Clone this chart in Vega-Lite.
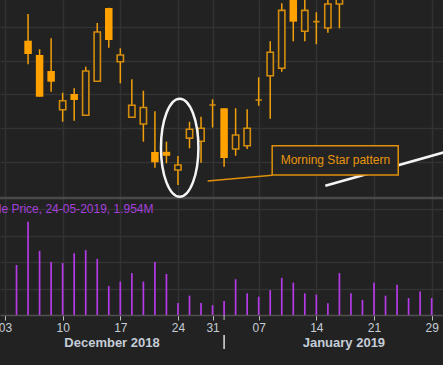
{
  "$schema": "https://vega.github.io/schema/vega-lite/v6.json",
  "width": 443,
  "height": 315,
  "autosize": {"type": "none"},
  "padding": {"left": 0, "top": 0, "right": 0, "bottom": 50},
  "background": "#222222",
  "config": {
    "view": {"stroke": null},
    "font": "Liberation Sans",
    "axisX": {"grid": true, "gridColor": "#333333", "gridWidth": 1.5, "domainColor": "#505050", "domainWidth": 1.5, "tickColor": "#c0c0c0", "tickSize": 5, "tickWidth": 1, "labelColor": "#c5cdd8", "labelFont": "Liberation Sans", "labelFontSize": 12, "labelPadding": 2, "labelFlush": false, "labelOverlap": false}
  },
  "datasets": {
    "days": [
      {"date": "2018-12-04", "i": 1, "open": null, "high": null, "low": null, "close": null, "volume": 1.89},
      {"date": "2018-12-05", "i": 2, "open": 21.797, "high": 22.193, "low": 21.447, "close": 21.600, "volume": 3.52},
      {"date": "2018-12-06", "i": 3, "open": 21.585, "high": 21.670, "low": 20.967, "close": 20.967, "volume": 2.42},
      {"date": "2018-12-07", "i": 4, "open": 21.348, "high": 21.833, "low": 21.041, "close": 21.190, "volume": 2.00},
      {"date": "2018-12-10", "i": 5, "open": 20.775, "high": 21.027, "low": 20.597, "close": 20.908, "volume": 1.96},
      {"date": "2018-12-11", "i": 6, "open": 21.007, "high": 21.092, "low": 20.612, "close": 20.919, "volume": 2.33},
      {"date": "2018-12-12", "i": 7, "open": 20.692, "high": 21.412, "low": 20.692, "close": 21.348, "volume": 2.45},
      {"date": "2018-12-13", "i": 8, "open": 21.196, "high": 22.059, "low": 21.196, "close": 21.926, "volume": 2.12},
      {"date": "2018-12-14", "i": 9, "open": 22.281, "high": 22.285, "low": 21.693, "close": 21.807, "volume": 1.09},
      {"date": "2018-12-17", "i": 10, "open": 21.486, "high": 21.684, "low": 21.166, "close": 21.585, "volume": 1.26},
      {"date": "2018-12-18", "i": 11, "open": 20.662, "high": 21.225, "low": 20.662, "close": 20.840, "volume": 1.58},
      {"date": "2018-12-19", "i": 12, "open": 20.563, "high": 21.056, "low": 20.301, "close": 20.807, "volume": 1.26},
      {"date": "2018-12-20", "i": 13, "open": 20.148, "high": 20.751, "low": 19.916, "close": 19.996, "volume": 2.00},
      {"date": "2018-12-21", "i": 14, "open": 20.151, "high": 20.301, "low": 19.981, "close": 20.092, "volume": 1.55},
      {"date": "2018-12-24", "i": 15, "open": 19.881, "high": 20.089, "low": 19.659, "close": 19.956, "volume": 0.45},
      {"date": "2018-12-27", "i": 16, "open": 20.353, "high": 20.596, "low": 20.203, "close": 20.486, "volume": 0.73},
      {"date": "2018-12-28", "i": 17, "open": 20.308, "high": 20.671, "low": 19.990, "close": 20.501, "volume": 0.45},
      {"date": "2018-12-31", "i": 18, "open": 20.844, "high": 20.929, "low": 20.511, "close": 20.844, "volume": 0.37},
      {"date": "2019-01-02", "i": 19, "open": 20.796, "high": 20.796, "low": 19.930, "close": 20.059, "volume": 0.53},
      {"date": "2019-01-03", "i": 20, "open": 20.193, "high": 20.796, "low": 20.093, "close": 20.400, "volume": 1.35},
      {"date": "2019-01-04", "i": 21, "open": 20.241, "high": 20.781, "low": 20.193, "close": 20.499, "volume": 0.82},
      {"date": "2019-01-07", "i": 22, "open": 20.919, "high": 21.255, "low": 20.833, "close": 20.919, "volume": 0.69},
      {"date": "2019-01-08", "i": 23, "open": 21.277, "high": 21.788, "low": 20.641, "close": 21.625, "volume": 0.94},
      {"date": "2019-01-09", "i": 24, "open": 21.388, "high": 22.351, "low": 21.338, "close": 22.247, "volume": 1.40},
      {"date": "2019-01-10", "i": 25, "open": 22.444, "high": 22.460, "low": 21.788, "close": 22.079, "volume": 1.22},
      {"date": "2019-01-11", "i": 26, "open": 21.936, "high": 22.474, "low": 21.788, "close": 22.247, "volume": 0.82},
      {"date": "2019-01-14", "i": 27, "open": 22.079, "high": 22.218, "low": 21.744, "close": 22.079, "volume": 0.77},
      {"date": "2019-01-15", "i": 28, "open": 21.985, "high": 22.430, "low": 21.916, "close": 22.341, "volume": 0.44},
      {"date": "2019-01-16", "i": 29, "open": 22.341, "high": 22.600, "low": 21.981, "close": 22.548, "volume": 1.58},
      {"date": "2019-01-17", "i": 30, "open": null, "high": null, "low": null, "close": null, "volume": 0.82},
      {"date": "2019-01-18", "i": 31, "open": null, "high": null, "low": null, "close": null, "volume": 0.57},
      {"date": "2019-01-21", "i": 32, "open": null, "high": null, "low": null, "close": null, "volume": 1.22},
      {"date": "2019-01-22", "i": 33, "open": null, "high": null, "low": null, "close": null, "volume": 0.73},
      {"date": "2019-01-23", "i": 34, "open": null, "high": null, "low": null, "close": null, "volume": 1.14},
      {"date": "2019-01-24", "i": 35, "open": null, "high": null, "low": null, "close": null, "volume": 0.64},
      {"date": "2019-01-25", "i": 36, "open": null, "high": null, "low": null, "close": null, "volume": 0.89},
      {"date": "2019-01-29", "i": 37, "open": null, "high": null, "low": null, "close": null, "volume": 0.64}
    ],
    "link": [{"i": 17.57, "price": 19.7185}, {"i": 23.17, "price": 19.803}],
    "trend": [{"i": 27.78, "price": 19.649}, {"i": 39.84, "price": 20.228}],
    "box": [{"i": 23.17, "i2": 34.10, "price": 20.2415, "price2": 19.8074, "label": "Morning Star pattern", "mid": 28.65, "pmid": 20.025}],
    "ring": [{"i": 15.15, "price": 20.212}],
    "legend": [{"i": 12.88, "volume": 4.0, "label": "le Price, 24-05-2019, 1.954M"}],
    "months": [{"i": 9.28, "volume": -1.05, "label": "December 2018"}, {"i": 29.39, "volume": -1.05, "label": "January 2019"}],
    "divider": [{"i": 19, "volume": -0.755, "volume2": -1.283, "tick": 0, "tick2": -0.19}],
    "separator": [{"volume": 4.415}]
  },
  "layer": [
    {
      "data": {"name": "days"},
      "mark": {"type": "rule", "color": "#f2a00a", "strokeWidth": 1.5},
      "encoding": {
        "x": {"field": "i", "type": "quantitative", "scale": {"domain": [0, 37.55], "nice": false, "zero": false},
          "axis": {"values": [0, 5, 10, 15, 18, 22, 27, 32, 37], "title": null, "labelFlush": false, "labelExpr": "datum.value == 0 ? '03' : datum.value == 5 ? '10' : datum.value == 10 ? '17' : datum.value == 15 ? '24' : datum.value == 18 ? '31' : datum.value == 22 ? '07' : datum.value == 27 ? '14' : datum.value == 32 ? '21' : datum.value == 37 ? '29' : ''"}},
        "y": {"field": "low", "type": "quantitative",
          "scale": {"domain": [17.7333, 22.4], "nice": false, "zero": false},
          "axis": {"values": [20, 20.5, 21, 21.5, 22], "grid": true, "gridColor": "#333333", "gridWidth": 1.5, "labels": false, "ticks": false, "domain": false, "title": null}},
        "y2": {"field": "high"}
      }
    },
    {
      "data": {"name": "days"},
      "transform": [{"filter": "datum.open != null && datum.close < datum.open"}],
      "mark": {"type": "bar", "size": 7.5, "color": "#ffa200"},
      "encoding": {
        "x": {"field": "i", "type": "quantitative", "scale": {"domain": [0, 37.55], "nice": false, "zero": false},
          "axis": {"values": [0, 5, 10, 15, 18, 22, 27, 32, 37], "title": null, "labelFlush": false, "labelExpr": "datum.value == 0 ? '03' : datum.value == 5 ? '10' : datum.value == 10 ? '17' : datum.value == 15 ? '24' : datum.value == 18 ? '31' : datum.value == 22 ? '07' : datum.value == 27 ? '14' : datum.value == 32 ? '21' : datum.value == 37 ? '29' : ''"}},
        "y": {"field": "open", "type": "quantitative", "scale": {"domain": [17.7333, 22.4], "nice": false, "zero": false}, "axis": null},
        "y2": {"field": "close"}
      }
    },
    {
      "data": {"name": "days"},
      "transform": [{"filter": "datum.open != null && datum.close >= datum.open"}],
      "mark": {"type": "bar", "size": 6.3, "fill": "#222222", "stroke": "#d48c0c", "strokeWidth": 1.6},
      "encoding": {
        "x": {"field": "i", "type": "quantitative", "scale": {"domain": [0, 37.55], "nice": false, "zero": false},
          "axis": {"values": [0, 5, 10, 15, 18, 22, 27, 32, 37], "title": null, "labelFlush": false, "labelExpr": "datum.value == 0 ? '03' : datum.value == 5 ? '10' : datum.value == 10 ? '17' : datum.value == 15 ? '24' : datum.value == 18 ? '31' : datum.value == 22 ? '07' : datum.value == 27 ? '14' : datum.value == 32 ? '21' : datum.value == 37 ? '29' : ''"}},
        "y": {"field": "open", "type": "quantitative", "scale": {"domain": [17.7333, 22.4], "nice": false, "zero": false}, "axis": null},
        "y2": {"field": "close"}
      }
    },
    {
      "data": {"name": "days"},
      "mark": {"type": "bar", "size": 1.7, "color": "#b43ae8"},
      "encoding": {
        "x": {"field": "i", "type": "quantitative", "scale": {"domain": [0, 37.55], "nice": false, "zero": false},
          "axis": {"values": [0, 5, 10, 15, 18, 22, 27, 32, 37], "title": null, "labelFlush": false, "labelExpr": "datum.value == 0 ? '03' : datum.value == 5 ? '10' : datum.value == 10 ? '17' : datum.value == 15 ? '24' : datum.value == 18 ? '31' : datum.value == 22 ? '07' : datum.value == 27 ? '14' : datum.value == 32 ? '21' : datum.value == 37 ? '29' : ''"}},
        "y": {"field": "volume", "type": "quantitative",
          "scale": {"domain": [0, 11.8868], "nice": false, "zero": false},
          "axis": {"values": [1, 2, 3, 4], "grid": true, "gridColor": "#333333", "gridWidth": 1.5, "labels": false, "ticks": false, "domain": false, "title": null}}
      }
    },
    {
      "data": {"name": "separator"},
      "mark": {"type": "rule", "color": "#4a4a4a", "strokeWidth": 2.5},
      "encoding": {
        "y": {"field": "volume", "type": "quantitative", "scale": {"domain": [0, 11.8868], "nice": false, "zero": false}, "axis": null}
      }
    },
    {
      "data": {"name": "link"},
      "mark": {"type": "line", "color": "#e0900a", "strokeWidth": 1.5},
      "encoding": {
        "x": {"field": "i", "type": "quantitative", "scale": {"domain": [0, 37.55], "nice": false, "zero": false},
          "axis": {"values": [0, 5, 10, 15, 18, 22, 27, 32, 37], "title": null, "labelFlush": false, "labelExpr": "datum.value == 0 ? '03' : datum.value == 5 ? '10' : datum.value == 10 ? '17' : datum.value == 15 ? '24' : datum.value == 18 ? '31' : datum.value == 22 ? '07' : datum.value == 27 ? '14' : datum.value == 32 ? '21' : datum.value == 37 ? '29' : ''"}},
        "y": {"field": "price", "type": "quantitative", "scale": {"domain": [17.7333, 22.4], "nice": false, "zero": false}, "axis": null}
      }
    },
    {
      "data": {"name": "trend"},
      "mark": {"type": "line", "color": "#f4f4f4", "strokeWidth": 2.5, "clip": true},
      "encoding": {
        "x": {"field": "i", "type": "quantitative", "scale": {"domain": [0, 37.55], "nice": false, "zero": false},
          "axis": {"values": [0, 5, 10, 15, 18, 22, 27, 32, 37], "title": null, "labelFlush": false, "labelExpr": "datum.value == 0 ? '03' : datum.value == 5 ? '10' : datum.value == 10 ? '17' : datum.value == 15 ? '24' : datum.value == 18 ? '31' : datum.value == 22 ? '07' : datum.value == 27 ? '14' : datum.value == 32 ? '21' : datum.value == 37 ? '29' : ''"}},
        "y": {"field": "price", "type": "quantitative", "scale": {"domain": [17.7333, 22.4], "nice": false, "zero": false}, "axis": null}
      }
    },
    {
      "data": {"name": "box"},
      "mark": {"type": "rect", "fill": "#242424", "stroke": "#e0900a", "strokeWidth": 1.5},
      "encoding": {
        "x": {"field": "i", "type": "quantitative", "scale": {"domain": [0, 37.55], "nice": false, "zero": false},
          "axis": {"values": [0, 5, 10, 15, 18, 22, 27, 32, 37], "title": null, "labelFlush": false, "labelExpr": "datum.value == 0 ? '03' : datum.value == 5 ? '10' : datum.value == 10 ? '17' : datum.value == 15 ? '24' : datum.value == 18 ? '31' : datum.value == 22 ? '07' : datum.value == 27 ? '14' : datum.value == 32 ? '21' : datum.value == 37 ? '29' : ''"}},
        "x2": {"field": "i2"},
        "y": {"field": "price", "type": "quantitative", "scale": {"domain": [17.7333, 22.4], "nice": false, "zero": false}, "axis": null},
        "y2": {"field": "price2"}
      }
    },
    {
      "data": {"name": "box"},
      "mark": {"type": "text", "color": "#e8960f", "font": "Liberation Sans", "fontSize": 12, "align": "center", "baseline": "middle"},
      "encoding": {
        "x": {"field": "mid", "type": "quantitative", "scale": {"domain": [0, 37.55], "nice": false, "zero": false},
          "axis": {"values": [0, 5, 10, 15, 18, 22, 27, 32, 37], "title": null, "labelFlush": false, "labelExpr": "datum.value == 0 ? '03' : datum.value == 5 ? '10' : datum.value == 10 ? '17' : datum.value == 15 ? '24' : datum.value == 18 ? '31' : datum.value == 22 ? '07' : datum.value == 27 ? '14' : datum.value == 32 ? '21' : datum.value == 37 ? '29' : ''"}},
        "y": {"field": "pmid", "type": "quantitative", "scale": {"domain": [17.7333, 22.4], "nice": false, "zero": false}, "axis": null},
        "text": {"field": "label"}
      }
    },
    {
      "data": {"name": "ring"},
      "mark": {"type": "point", "filled": false, "opacity": 1, "stroke": "#f4f4f4", "strokeWidth": 2.5, "size": 9604,
        "shape": "M 0 -1 C 0.211 -1 0.382 -0.5523 0.382 0 C 0.382 0.5523 0.211 1 0 1 C -0.211 1 -0.382 0.5523 -0.382 0 C -0.382 -0.5523 -0.211 -1 0 -1 Z"},
      "encoding": {
        "x": {"field": "i", "type": "quantitative", "scale": {"domain": [0, 37.55], "nice": false, "zero": false},
          "axis": {"values": [0, 5, 10, 15, 18, 22, 27, 32, 37], "title": null, "labelFlush": false, "labelExpr": "datum.value == 0 ? '03' : datum.value == 5 ? '10' : datum.value == 10 ? '17' : datum.value == 15 ? '24' : datum.value == 18 ? '31' : datum.value == 22 ? '07' : datum.value == 27 ? '14' : datum.value == 32 ? '21' : datum.value == 37 ? '29' : ''"}},
        "y": {"field": "price", "type": "quantitative", "scale": {"domain": [17.7333, 22.4], "nice": false, "zero": false}, "axis": null}
      }
    },
    {
      "data": {"name": "legend"},
      "mark": {"type": "text", "color": "#a440dc", "font": "Liberation Sans", "fontSize": 12, "align": "right", "baseline": "middle"},
      "encoding": {
        "x": {"field": "i", "type": "quantitative", "scale": {"domain": [0, 37.55], "nice": false, "zero": false},
          "axis": {"values": [0, 5, 10, 15, 18, 22, 27, 32, 37], "title": null, "labelFlush": false, "labelExpr": "datum.value == 0 ? '03' : datum.value == 5 ? '10' : datum.value == 10 ? '17' : datum.value == 15 ? '24' : datum.value == 18 ? '31' : datum.value == 22 ? '07' : datum.value == 27 ? '14' : datum.value == 32 ? '21' : datum.value == 37 ? '29' : ''"}},
        "y": {"field": "volume", "type": "quantitative", "scale": {"domain": [0, 11.8868], "nice": false, "zero": false}, "axis": null},
        "text": {"field": "label"}
      }
    },
    {
      "data": {"name": "months"},
      "mark": {"type": "text", "color": "#c5cdd8", "font": "Liberation Sans", "fontSize": 13, "fontWeight": "bold", "align": "center", "baseline": "middle"},
      "encoding": {
        "x": {"field": "i", "type": "quantitative", "scale": {"domain": [0, 37.55], "nice": false, "zero": false},
          "axis": {"values": [0, 5, 10, 15, 18, 22, 27, 32, 37], "title": null, "labelFlush": false, "labelExpr": "datum.value == 0 ? '03' : datum.value == 5 ? '10' : datum.value == 10 ? '17' : datum.value == 15 ? '24' : datum.value == 18 ? '31' : datum.value == 22 ? '07' : datum.value == 27 ? '14' : datum.value == 32 ? '21' : datum.value == 37 ? '29' : ''"}},
        "y": {"field": "volume", "type": "quantitative", "scale": {"domain": [0, 11.8868], "nice": false, "zero": false}, "axis": null},
        "text": {"field": "label"}
      }
    },
    {
      "data": {"name": "divider"},
      "mark": {"type": "rule", "color": "#dddddd", "strokeWidth": 1.5},
      "encoding": {
        "x": {"field": "i", "type": "quantitative", "scale": {"domain": [0, 37.55], "nice": false, "zero": false},
          "axis": {"values": [0, 5, 10, 15, 18, 22, 27, 32, 37], "title": null, "labelFlush": false, "labelExpr": "datum.value == 0 ? '03' : datum.value == 5 ? '10' : datum.value == 10 ? '17' : datum.value == 15 ? '24' : datum.value == 18 ? '31' : datum.value == 22 ? '07' : datum.value == 27 ? '14' : datum.value == 32 ? '21' : datum.value == 37 ? '29' : ''"}},
        "y": {"field": "volume", "type": "quantitative", "scale": {"domain": [0, 11.8868], "nice": false, "zero": false}, "axis": null},
        "y2": {"field": "volume2"}
      }
    },
    {
      "data": {"name": "divider"},
      "mark": {"type": "rule", "color": "#c0c0c0", "strokeWidth": 1},
      "encoding": {
        "x": {"field": "i", "type": "quantitative", "scale": {"domain": [0, 37.55], "nice": false, "zero": false},
          "axis": {"values": [0, 5, 10, 15, 18, 22, 27, 32, 37], "title": null, "labelFlush": false, "labelExpr": "datum.value == 0 ? '03' : datum.value == 5 ? '10' : datum.value == 10 ? '17' : datum.value == 15 ? '24' : datum.value == 18 ? '31' : datum.value == 22 ? '07' : datum.value == 27 ? '14' : datum.value == 32 ? '21' : datum.value == 37 ? '29' : ''"}},
        "y": {"field": "tick", "type": "quantitative", "scale": {"domain": [0, 11.8868], "nice": false, "zero": false}, "axis": null},
        "y2": {"field": "tick2"}
      }
    }
  ],
  "resolve": {"scale": {"y": "independent"}, "axis": {"y": "independent"}}
}
